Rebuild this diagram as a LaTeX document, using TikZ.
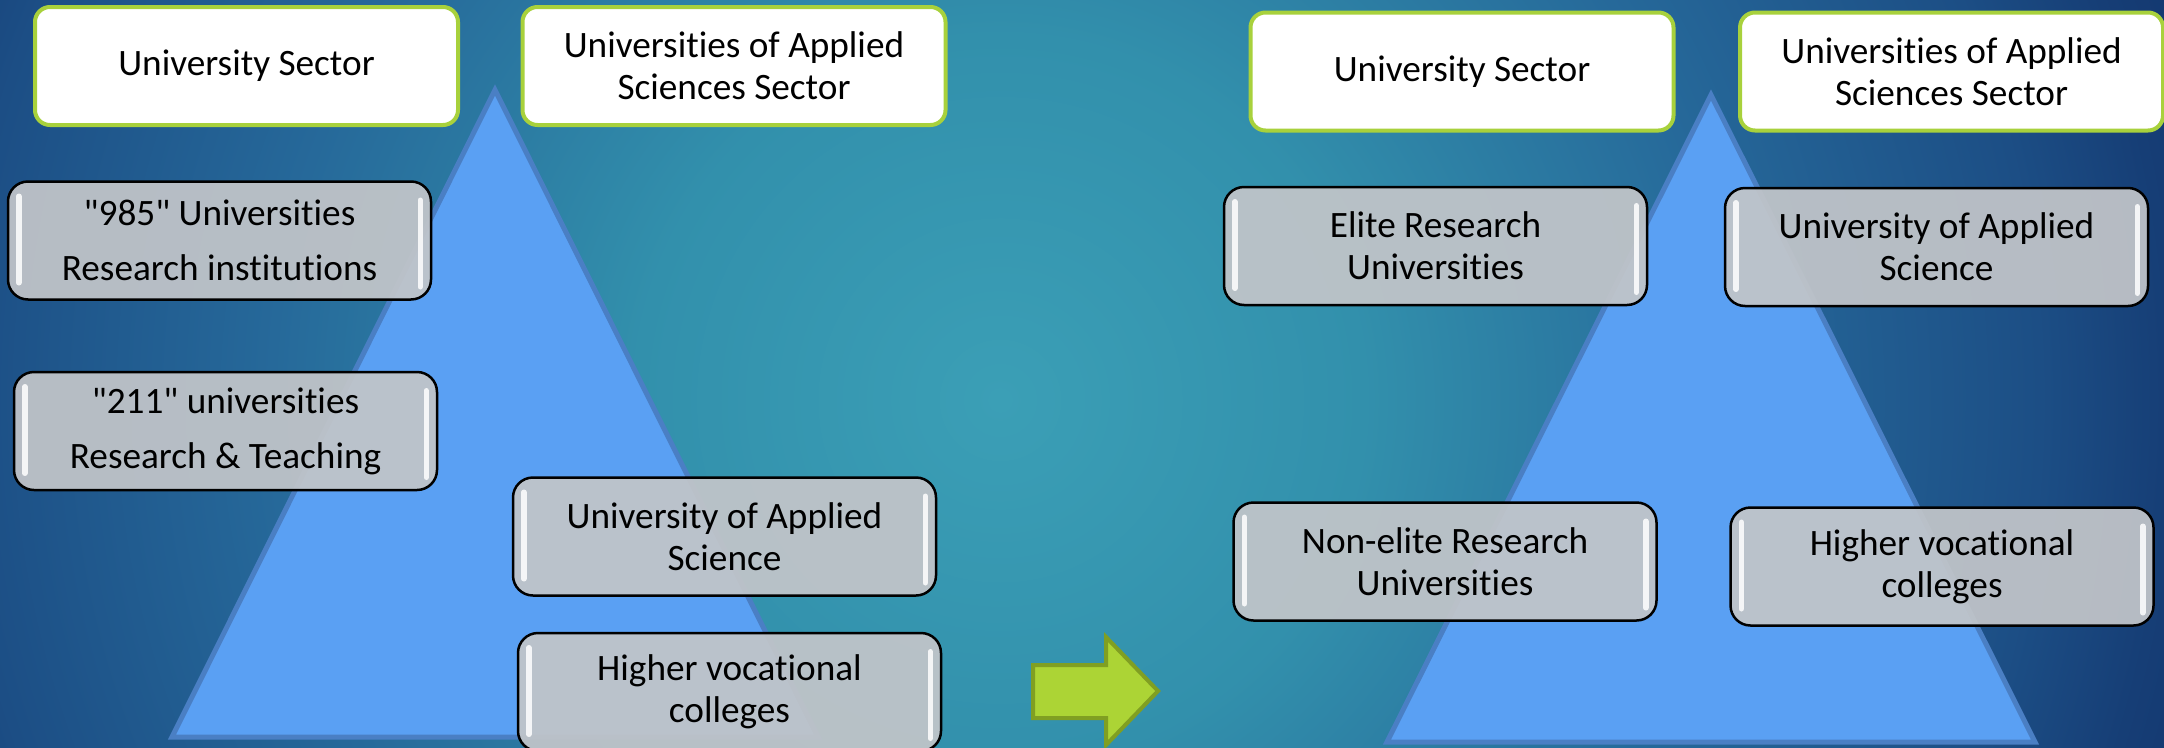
\documentclass[tikz,border=0pt]{standalone}
\usepackage{fontspec}
\setmainfont{Carlito}[Ligatures={TeXOff,CommonOff}]

% background glow colours, centre to rim
\definecolor{bgA}{HTML}{3B9FB6}
\definecolor{bgB}{HTML}{3290AC}
\definecolor{bgC}{HTML}{26699A}
\definecolor{bgD}{HTML}{1C4E85}
\definecolor{bgE}{HTML}{163E76}
\definecolor{bgF}{HTML}{12346C}
\definecolor{hdrline}{HTML}{A8D13C}
\definecolor{tiergrey}{HTML}{C2C5C9}
\definecolor{trifill}{HTML}{5AA0F3}
\definecolor{triline}{HTML}{4A7FC4}
\definecolor{arrowfill}{HTML}{ACD435}
\definecolor{arrowline}{HTML}{809F22}

\pgfdeclareradialshading{bgglow}{\pgfpoint{0bp}{0bp}}{%
  color(0bp)=(bgA); color(7bp)=(bgB); color(14bp)=(bgC);
  color(20bp)=(bgD); color(22.5bp)=(bgE); color(25bp)=(bgF); color(50bp)=(bgF)}

\tikzset{
  boxtext/.style={font=\fontsize{10.6}{12}\selectfont, align=center, text=black},
  header/.style={boxtext, draw=hdrline, line width=0.4mm, fill=white,
    rounded corners=1.5mm, minimum width=42.3mm, minimum height=11.8mm, inner sep=0pt},
  tier/.style={boxtext, draw=black, line width=0.25mm, fill=tiergrey,
    fill opacity=0.93, text opacity=1, rounded corners=2mm,
    minimum width=42.3mm, minimum height=11.8mm, inner sep=0pt},
  gloss/.style={draw=white, line width=0.55mm, line cap=round, opacity=0.85},
  pyramid/.style={fill=trifill, draw=triline, line width=0.5mm, line join=miter},
  blockarrow/.style={fill=arrowfill, draw=arrowline, line width=0.4mm, line join=miter},
}

\begin{document}
\begin{tikzpicture}[x=0.1mm, y=-0.1mm]
\useasboundingbox (0,0) rectangle (2164,747);

% backdrop
\begin{scope}
  \clip (0,0) rectangle (2164,747);
  \shade[shading=bgglow] (1000,400) circle (130mm);
\end{scope}

% the two pyramids
\draw[pyramid] (495,90) -- (818,737) -- (172,737) -- cycle;
\draw[pyramid] (1711,95) -- (2035,742) -- (1387,742) -- cycle;

% sector headers
\node[header] (usL)  at (246.5,66)  {University Sector};
\node[header] (uasL) at (734,66)    {Universities of Applied\\Sciences Sector};
\node[header] (usR)  at (1462,71.5) {University Sector};
\node[header] (uasR) at (1951.5,71.5) {Universities of Applied\\Sciences Sector};

% tiers before
\node[tier] (t985) at (219.5,240.5) {"985" Universities\\[3.6pt]Research institutions};
\node[tier] (t211) at (225.5,431)   {"211" universities\\[3.6pt]Research \& Teaching};
\node[tier] (uasA) at (724.5,536.5) {University of Applied\\Science};
\node[tier] (hvcA) at (729.5,692)   {Higher vocational\\colleges};

% tiers after
\node[tier] (elite)   at (1435.5,246)   {Elite Research\\Universities};
\node[tier] (uasB)    at (1936.5,247)   {University of Applied\\Science};
\node[tier] (nonelite) at (1445,561.5)  {Non-elite Research\\Universities};
\node[tier] (hvcB)    at (1942,566.5)   {Higher vocational\\colleges};

% glossy edge highlights on the tier boxes
\foreach \n in {t985,t211,uasA,hvcA,elite,uasB,nonelite,hvcB}{
  \draw[gloss] ([xshift=1.2mm,yshift=-1.6mm]\n.north west) -- ([xshift=1.2mm,yshift=1.8mm]\n.south west);
  \draw[gloss] ([xshift=-1.2mm,yshift=-2.0mm]\n.north east) -- ([xshift=-1.2mm,yshift=1.4mm]\n.south east);
}

% transition arrow
\draw[blockarrow] (1033,665) -- (1106,665) -- (1106,637) -- (1158,691)
  -- (1106,745) -- (1106,718) -- (1033,718) -- cycle;
\end{tikzpicture}
\end{document}
